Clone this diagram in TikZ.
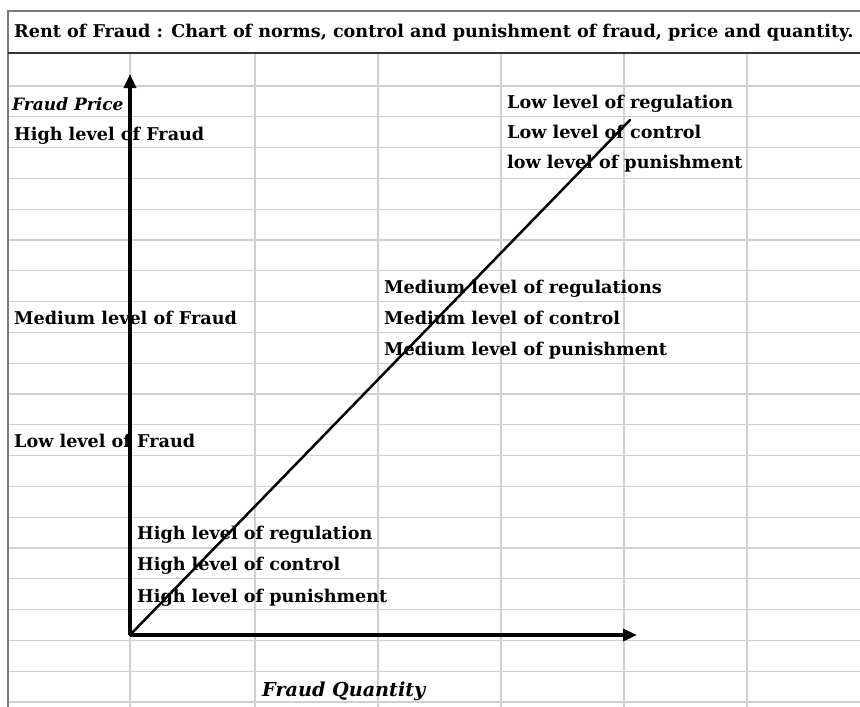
\documentclass[tikz,border=0pt]{standalone}
\usepackage{fontspec}
\setmainfont{DejaVu Serif}
\usetikzlibrary{arrows.meta}
\definecolor{gridgray}{HTML}{CDD0D4}
\definecolor{framegray}{HTML}{7A7A7A}
\tikzset{
  cell/.style={draw=gridgray, line width=1.3pt},
  lbl/.style={anchor=base west, inner sep=0pt, font=\fontsize{17.6}{19}\selectfont\bfseries},
  axislbl/.style={anchor=base west, inner sep=0pt, font=\fontsize{17}{19}\selectfont\bfseries\itshape},
  axis/.style={line width=3.6pt, -{Triangle[length=14pt,width=12pt]}},
  trend/.style={line width=2.5pt, line cap=round}
}
\begin{document}
\begin{tikzpicture}[x=1pt,y=-1pt]
\useasboundingbox (0,0) rectangle (860,707);
\fill[white] (0,0) rectangle (860,707);
% spreadsheet rows
\foreach \r in {0,...,20}{
  \draw[cell] (8,{86+30.8*\r}) -- (860,{86+30.8*\r});
}
% spreadsheet columns
\foreach \c in {130,255,378,501,624,747}{
  \draw[cell] (\c,53) -- (\c,707);
}
% outer frame and title cell
\draw[framegray, line width=2.5pt] (8,707) -- (8,11) -- (862,11);
\draw[black!80, line width=2.8pt] (8,53) -- (862,53);
\node[lbl] (title) at (14,37)
  {Rent of Fraud : Chart of norms, control and punishment of fraud, price and quantity.};
% labels
\node[axislbl] (price) at (12,110) {Fraud Price};
\node[lbl] (highfraud) at (14,140) {High level of Fraud};
\node[lbl] (medfraud) at (14,324) {Medium level of Fraud};
\node[lbl] (lowfraud) at (14,447) {Low level of Fraud};
\node[lbl] (lowreg) at (507,108) {Low level of regulation};
\node[lbl] (lowctl) at (507,138) {Low level of control};
\node[lbl] (lowpun) at (507,168) {low level of punishment};
\node[lbl] (medreg) at (384,293) {Medium level of regulations};
\node[lbl] (medctl) at (384,324) {Medium level of control};
\node[lbl] (medpun) at (384,355) {Medium level of punishment};
\node[lbl] (highreg) at (137,539) {High level of regulation};
\node[lbl] (highctl) at (137,570) {High level of control};
\node[lbl] (highpun) at (137,602) {High level of punishment};
\node[axislbl, font=\fontsize{19.2}{21}\selectfont\bfseries\itshape] (qty) at (262,696) {Fraud Quantity};
% axes and trend line
\coordinate (origin) at (130,635);
\coordinate (ytip) at (130,74);
\coordinate (xtip) at (637,635);
\coordinate (trendend) at (630,120);
\draw[axis] (origin) -- (ytip);
\draw[axis] (origin) -- (xtip);
\draw[trend] (origin) -- (trendend);
\end{tikzpicture}
\end{document}
